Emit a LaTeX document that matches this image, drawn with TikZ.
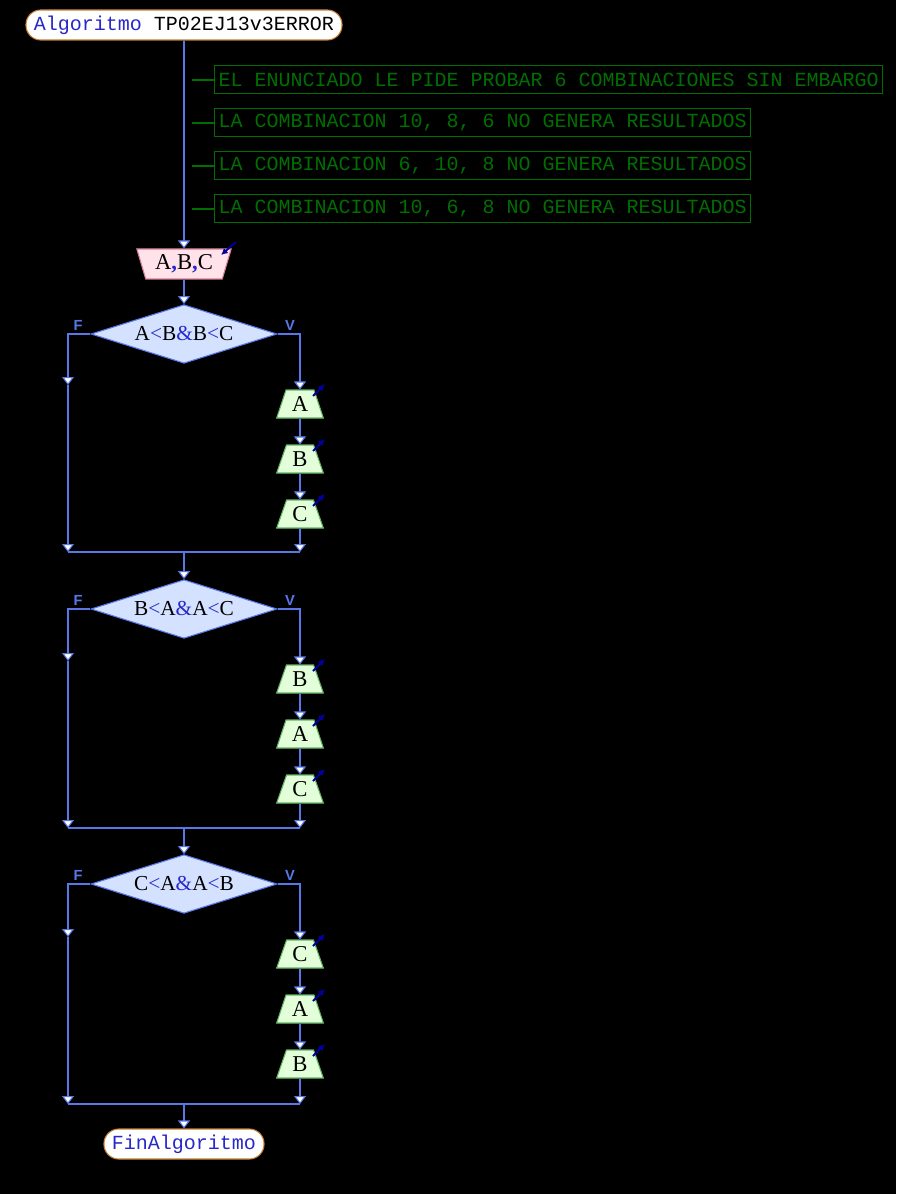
\documentclass[tikz,border=0pt]{standalone}
\usepackage{fontspec}
\setmainfont{Liberation Serif}
\setsansfont{Liberation Sans}
\setmonofont{Liberation Mono}
\usetikzlibrary{arrows.meta,shapes.geometric}

\definecolor{flowc}{RGB}{88,120,232}
\definecolor{termc}{RGB}{196,128,48}
\definecolor{kwc}{RGB}{40,40,200}
\definecolor{notec}{RGB}{0,110,0}
\definecolor{condfill}{RGB}{212,226,255}
\definecolor{outfill}{RGB}{226,255,218}
\definecolor{outb}{RGB}{100,180,100}
\definecolor{infill}{RGB}{255,226,234}
\definecolor{inb}{RGB}{210,130,150}
\definecolor{ioc}{RGB}{0,0,160}

\newcommand{\opc}[1]{\textcolor{kwc}{#1}}

\begin{document}
\begin{tikzpicture}[
    x=0.75pt, y=-0.75pt,
    flow/.style={draw=flowc, line width=1.3pt},
    tip/.style={-{Triangle[width=9pt,length=6pt,fill=white,line width=0.8pt]}},
    term/.style={draw=termc, fill=white, line width=0.8pt, rounded corners=11pt,
        minimum height=22.5pt, inner xsep=6pt, font=\ttfamily\fontsize{15}{15}\selectfont},
    note/.style={draw=notec, text=notec, line width=0.75pt, anchor=west,
        minimum height=21pt, inner xsep=3pt, font=\ttfamily\fontsize{15}{15}\selectfont},
    cond/.style={diamond, draw=flowc, fill=condfill, line width=0.8pt, aspect=3.15,
        minimum width=139.5pt, minimum height=44pt, inner sep=0pt,
        font=\fontsize{16}{16}\selectfont},
    outbox/.style={trapezium, trapezium angle=70, trapezium stretches=true,
        draw=outb, fill=outfill, line width=0.8pt, minimum width=35pt,
        minimum height=21pt, inner sep=0pt, font=\fontsize{17}{17}\selectfont},
    inbox/.style={trapezium, shape border rotate=180, trapezium angle=70,
        trapezium stretches=true, draw=inb, fill=infill, line width=0.8pt,
        minimum width=71pt, minimum height=22.5pt, inner sep=0pt,
        font=\fontsize{17}{17}\selectfont},
    branch/.style={text=flowc, font=\sffamily\bfseries\fontsize{11}{11}\selectfont},
    ioarrow/.style={draw=ioc, line width=1.4pt, -{Latex[length=5pt,width=5pt]}}
    ]
    \fill[black] (0,0) rectangle (896,1194);
    \useasboundingbox (0,0) rectangle (896,1194);

    % Start, comments and input
    \node[term] (start) at (184,25) {\textcolor{kwc}{Algoritmo} TP02EJ13v3ERROR};
    \node[note] (n1) at (214,80) {EL ENUNCIADO LE PIDE PROBAR 6 COMBINACIONES SIN EMBARGO};
    \node[note] (n2) at (214,123) {LA COMBINACION 10, 8, 6 NO GENERA RESULTADOS};
    \node[note] (n3) at (214,166) {LA COMBINACION 6, 10, 8 NO GENERA RESULTADOS};
    \node[note] (n4) at (214,209) {LA COMBINACION 10, 6, 8 NO GENERA RESULTADOS};
    \node[inbox] (read) at (184,264) {A\opc{\textbf{,}}B\opc{\textbf{,}}C};

    \draw[flow,tip] (start) -- (read);
    \foreach \n in {n1,n2,n3,n4}
        \draw[notec, line width=1.5pt] (\n.west) -- ++(-22,0);
    \draw[ioarrow] ([shift={(52,-22)}]read.center) -- ([shift={(37,-9)}]read.center);

    % First condition
    \node[cond] (c1) at (184,334) {A\opc{<}B\opc{\&}B\opc{<}C};
    \node[branch] (f1) at (78,325) {F};
    \node[branch] (v1) at (290,325) {V};
    \node[outbox] (o11) at (300,404) {A};
    \node[outbox] (o12) at (300,459) {B};
    \node[outbox] (o13) at (300,514) {C};
    \coordinate (l1) at (68,385);
    \coordinate (lj1) at (68,552);
    \coordinate (rj1) at (300,552);
    \coordinate (j1) at (184,552);

    % Second condition
    \node[cond] (c2) at (184,609) {B\opc{<}A\opc{\&}A\opc{<}C};
    \node[branch] (f2) at (78,600) {F};
    \node[branch] (v2) at (290,600) {V};
    \node[outbox] (o21) at (300,679) {B};
    \node[outbox] (o22) at (300,734) {A};
    \node[outbox] (o23) at (300,789) {C};
    \coordinate (l2) at (68,661);
    \coordinate (lj2) at (68,828);
    \coordinate (rj2) at (300,828);
    \coordinate (j2) at (184,828);

    % Third condition
    \node[cond] (c3) at (184,884) {C\opc{<}A\opc{\&}A\opc{<}B};
    \node[branch] (f3) at (78,875) {F};
    \node[branch] (v3) at (290,875) {V};
    \node[outbox] (o31) at (300,954) {C};
    \node[outbox] (o32) at (300,1009) {A};
    \node[outbox] (o33) at (300,1064) {B};
    \coordinate (l3) at (68,937);
    \coordinate (lj3) at (68,1104);
    \coordinate (rj3) at (300,1104);
    \coordinate (j3) at (184,1104);

    \node[term] (fin) at (184,1144) {\textcolor{kwc}{FinAlgoritmo}};

    % Flow lines
    \draw[flow,tip] (read) -- (c1);
    \foreach \k in {1,2,3} {
        \draw[flow,tip] (c\k.east) -| (o\k1.north);
        \draw[flow,tip] (o\k1) -- (o\k2);
        \draw[flow,tip] (o\k2) -- (o\k3);
        \draw[flow,tip] (o\k3) -- (rj\k);
        \draw[flow,tip] (c\k.west) -| (l\k);
        \draw[flow,tip] (l\k) -- (lj\k);
        \draw[flow] (lj\k) -- (rj\k);
        \foreach \m in {1,2,3}
            \draw[ioarrow] ([shift={(13,-8)}]o\k\m.center) -- ++(12,-12);
    }
    \draw[flow,tip] (j1) -- (c2);
    \draw[flow,tip] (j2) -- (c3);
    \draw[flow,tip] (j3) -- (fin);
\end{tikzpicture}
\end{document}
